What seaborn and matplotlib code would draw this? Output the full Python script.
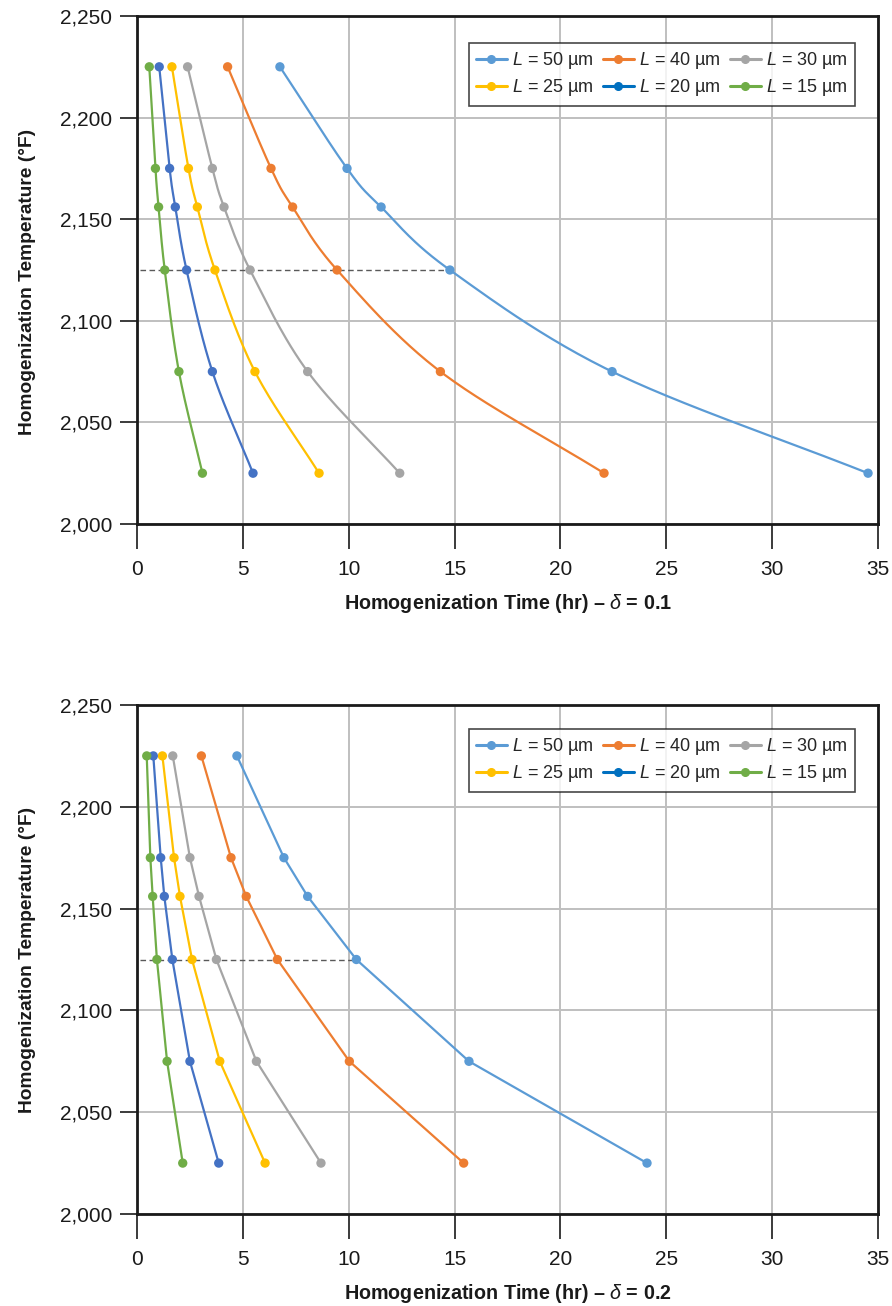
import numpy as np
import pandas as pd
import matplotlib
matplotlib.use("Agg")
import matplotlib.pyplot as plt
from matplotlib.lines import Line2D
from matplotlib.ticker import FuncFormatter, MultipleLocator
import seaborn as sns

# ---------------- data ----------------
temps = [2225, 2175, 2156, 2125, 2075, 2025]
lengths = ["50", "40", "30", "25", "20", "15"]

# delta = 0.1
d01_L50 = [6.75, 9.92, 11.53, 14.78, 22.44, 34.53]
d01_L40 = [4.28, 6.33, 7.35, 9.45, 14.33, 22.06]
d01_L30 = [2.39, 3.56, 4.11, 5.34, 8.06, 12.41]
d01_L25 = [1.65, 2.43, 2.85, 3.68, 5.57, 8.60]
d01_L20 = [1.05, 1.54, 1.81, 2.34, 3.56, 5.48]
d01_L15 = [0.58, 0.87, 1.02, 1.31, 1.98, 3.09]

# delta = 0.2
d02_L50 = [4.72, 6.94, 8.06, 10.36, 15.68, 24.09]
d02_L40 = [3.04, 4.44, 5.16, 6.63, 10.03, 15.43]
d02_L30 = [1.69, 2.50, 2.93, 3.75, 5.64, 8.69]
d02_L25 = [1.20, 1.75, 2.03, 2.60, 3.91, 6.05]
d02_L20 = [0.77, 1.12, 1.29, 1.67, 2.50, 3.86]
d02_L15 = [0.46, 0.63, 0.74, 0.94, 1.42, 2.16]

ref_temp = 2125
dash_start = 0.15

colors = ["#5B9BD5", "#ED7D31", "#A5A5A5", "#FFC000", "#4472C4", "#70AD47"]
legend_colors = ["#5B9BD5", "#ED7D31", "#A5A5A5", "#FFC000", "#0070C0", "#70AD47"]

panels = [
    ("0.1", [d01_L50, d01_L40, d01_L30, d01_L25, d01_L20, d01_L15], True, 0.947, 0.476),
    ("0.2", [d02_L50, d02_L40, d02_L30, d02_L25, d02_L20, d02_L15], False, 0.953, 0.5),
]

sns.set_theme(style="white")
plt.rcParams["font.family"] = ["Liberation Sans", "DejaVu Sans"]
plt.rcParams["mathtext.fontset"] = "custom"
plt.rcParams["mathtext.it"] = "Liberation Sans:italic"
plt.rcParams["mathtext.rm"] = "Liberation Sans"
plt.rcParams["mathtext.bf"] = "Liberation Sans:bold"


def smooth(xs, ys, n=30):
    """Catmull-Rom rendering of the line through the given points (visual smoothing)."""
    xs = np.asarray(xs, float)
    ys = np.asarray(ys, float)
    px = xs / 35.0
    py = (ys - 2000) / 250.0 * (508 / 741)
    P = np.column_stack([px, py])
    P = np.vstack([2 * P[0] - P[1], P, 2 * P[-1] - P[-2]])
    out = []
    for i in range(1, len(P) - 2):
        p0, p1, p2, p3 = P[i - 1], P[i], P[i + 1], P[i + 2]
        t = np.linspace(0, 1, n)[:, None]
        seg = 0.5 * ((2 * p1) + (-p0 + p2) * t + (2 * p0 - 5 * p1 + 4 * p2 - p3) * t ** 2
                     + (-p0 + 3 * p1 - 3 * p2 + p3) * t ** 3)
        out.append(seg if i == 1 else seg[1:])
    out = np.vstack(out)
    return out[:, 0] * 35.0, out[:, 1] / (508 / 741) * 250.0 + 2000


W, H = 892, 1306
fig = plt.figure(figsize=(W / 100, H / 100), dpi=100)
ax_rects = [
    [137 / W, (H - 524) / H, 741 / W, 508 / H],
    [137 / W, (H - 1214) / H, 741 / W, 509 / H],
]

for (delta, series, smoothed, leg_top, ylab_y), rect in zip(panels, ax_rects):
    ax = fig.add_axes(rect)
    rows = []
    for L, vals in zip(lengths, series):
        for t, v in zip(temps, vals):
            rows.append({"L": L, "time": v, "temp": t})
    df = pd.DataFrame(rows)

    ax.set_xlim(0, 35)
    ax.set_ylim(2000, 2250)
    ax.xaxis.set_major_locator(MultipleLocator(5))
    ax.yaxis.set_major_locator(MultipleLocator(50))
    ax.grid(True, color="#BFBFBF", linewidth=1.4)
    ax.set_axisbelow(True)

    # dashed reference line at 2125 °F up to the L = 50 µm curve
    t50_ref = series[0][temps.index(ref_temp)]
    ax.plot([dash_start, t50_ref], [ref_temp, ref_temp], color="#595959",
            linestyle=(0, (4, 2.5)), linewidth=1.0, zorder=2)

    for L, c in zip(lengths, colors):
        sub = df[df["L"] == L]
        if smoothed:
            sx, sy = smooth(sub["time"].values, sub["temp"].values)
            ax.plot(sx, sy, color=c, linewidth=1.6, zorder=3)
        else:
            sns.lineplot(data=sub, x="time", y="temp", sort=False, color=c,
                         linewidth=1.6, ax=ax, legend=False, zorder=3, estimator=None)
    sns.scatterplot(data=df, x="time", y="temp", hue="L", palette=dict(zip(lengths, colors)),
                    s=45, edgecolor="none", ax=ax, legend=False, zorder=4)

    for sp in ax.spines.values():
        sp.set_visible(True)
        sp.set_color("#1a1a1a")
        sp.set_linewidth(2.0)

    ax.tick_params(axis="both", which="major", direction="out", length=12, width=1.2,
                   color="#1a1a1a", labelsize=15, labelcolor="#1a1a1a", pad=6,
                   bottom=True, left=True)
    ax.tick_params(axis="x", length=18, pad=8)
    ax.yaxis.set_major_formatter(FuncFormatter(lambda v, p: f"{int(v):,}"))

    ax.set_xlabel(r"Homogenization Time (hr) – $\delta$ = " + delta,
                  fontsize=14.2, fontweight="bold", labelpad=9, color="#1a1a1a")
    ax.set_ylabel("Homogenization Temperature (°F)", fontsize=13.8, fontweight="bold",
                  color="#1a1a1a")
    ax.yaxis.set_label_coords(-0.136, ylab_y)

    handles = []
    order = [0, 3, 1, 4, 2, 5]
    for i in order:
        handles.append(Line2D([0], [0], color=legend_colors[i], linewidth=2.2, marker="o",
                              markersize=5.5, label=r"$L$ = " + lengths[i] + " µm"))
    leg = ax.legend(handles=handles, ncol=3, loc="upper right",
                    bbox_to_anchor=(0.969, leg_top), frameon=True, fancybox=False,
                    edgecolor="#1a1a1a", handlelength=1.7,
                    handletextpad=0.3, columnspacing=0.5, labelspacing=0.35,
                    borderpad=0.4, borderaxespad=0,
                    prop={"family": ["Liberation Sans", "DejaVu Sans"], "size": 13})
    leg.get_frame().set_linewidth(1.2)

fig.savefig("out.png", dpi=100)
